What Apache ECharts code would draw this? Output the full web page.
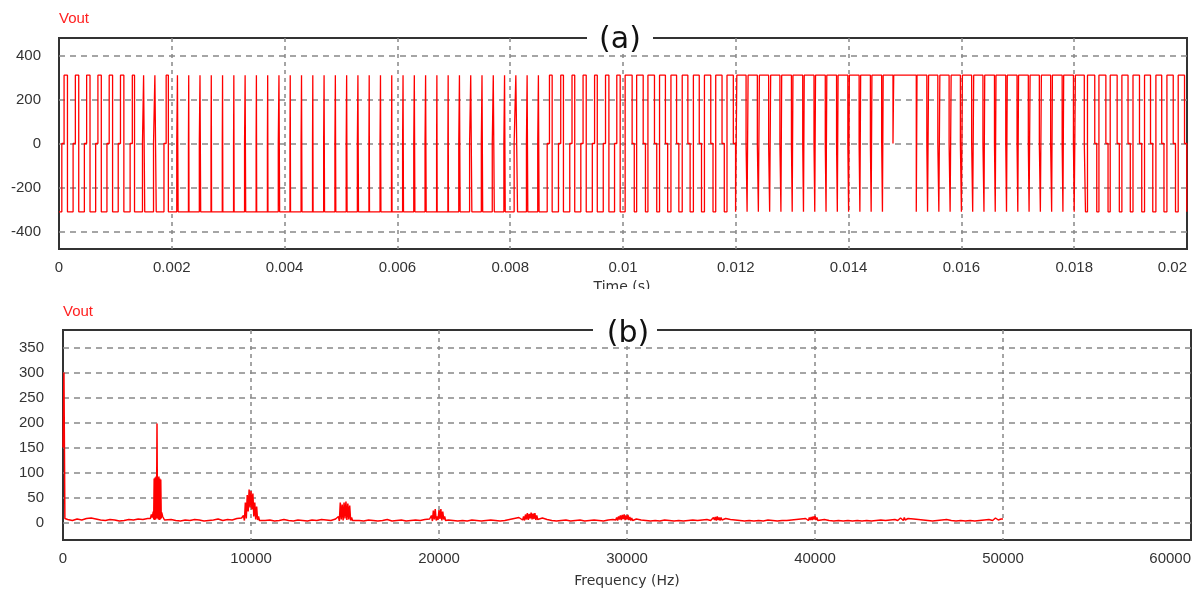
<!DOCTYPE html>
<html>
<head>
<meta charset="utf-8">
<title>Vout</title>
<style>
  html, body { margin: 0; background: #fff; }
  #main { width: 1201px; height: 590px; }
</style>
</head>
<body>
<div id="main"></div>
<script src="https://cdn.jsdelivr.net/npm/echarts@6/dist/echarts.min.js"></script>
<script>
// ---- (a) inverter output: high-pulse duty of each 0.2 ms carrier period
var duty = [
  0.5, 0.5, 0.5, 0.5, 0.5, 0.5, 0.39, 0.2, 0.24, 0.39,
  0.12, 0.05, 0.12, 0.05, 0.05, 0.05, 0.1, 0.05, 0.05, 0.12,
  0.05, 0.08, 0.05, 0.08, 0.08, 0.08, 0.1, 0.05, 0.08, 0.05,
  0.08, 0.1, 0.1, 0.05, 0.05, 0.12, 0.2, 0.12, 0.18, 0.12,
  0.3, 0.12, 0.12, 0.44, 0.44, 0.44, 0.48, 0.44, 0.5, 0.5,
  0.62, 0.58, 0.58, 0.52, 0.5, 0.5, 0.52, 0.56, 0.56, 0.56,
  0.82, 0.82, 0.82, 0.82, 0.865, 0.865, 0.865, 0.865, 0.865, 0.865,
  0.865, 0.865, 0.865, 0.87, 1, 1, 0.87, 0.82, 0.82, 0.82,
  0.82, 0.82, 0.865, 0.865, 0.865, 0.865, 0.82, 0.82, 0.865, 0.865,
  0.79, 0.645, 0.615, 0.615, 0.545, 0.575, 0.53, 0.515, 0.56, 0.56
];
var busVolt = 311;       // pulse height (V)
var carrierT = 0.0002;   // 5 kHz carrier
var halfCycle = 0.01;    // 50 Hz half period
var shelf = 0.2;         // zero-level step at the leading edge, part of a period
var voltTicks = [-400, -200, 0, 200, 400];

// ---- (b) spectrum: noise floor every 250 Hz (250 ... 50000) and the clusters around harmonics
var baseAmp = [
  6, 4, 7, 5, 8, 9, 7, 5, 4, 6, 5, 3, 4, 6, 5, 7, 6, 8, 10, 12,
  9, 5, 6, 4, 3, 5, 4, 6, 5, 3, 4, 5, 7, 4, 6, 5, 8, 9, 12, 15,
  10, 6, 4, 5, 3, 4, 6, 4, 3, 5, 4, 3, 5, 4, 6, 5, 4, 7, 10, 14,
  9, 6, 4, 3, 5, 4, 3, 4, 6, 3, 4, 5, 3, 4, 5, 4, 6, 7, 9, 12,
  8, 5, 4, 3, 4, 3, 5, 4, 3, 4, 5, 4, 3, 4, 6, 8, 10, 12, 14, 15,
  12, 9, 6, 4, 3, 4, 5, 3, 4, 5, 3, 4, 5, 4, 3, 5, 6, 8, 10, 12,
  10, 7, 5, 4, 3, 4, 3, 5, 4, 3, 4, 3, 4, 5, 4, 5, 6, 7, 8, 9,
  8, 6, 5, 4, 3, 4, 3, 4, 3, 5, 4, 3, 4, 4, 5, 6, 7, 8, 9, 10,
  8, 6, 4, 3, 4, 3, 4, 3, 4, 3, 4, 3, 4, 5, 4, 5, 6, 7, 8, 9,
  7, 6, 5, 4, 3, 4, 5, 6, 4, 3, 4, 3, 4, 3, 4, 5, 6, 8, 9, 7
];
var baseStep = 250;
var fund = [[0, 150], [50, 300], [100, 8], [150, 5], [200, 7]];
var c5k = [[4650, 8], [4700, 16], [4750, 10], [4800, 22], [4825, 6], [4850, 88], [4875, 5], [4900, 90],
  [4925, 6], [4950, 92], [4975, 8], [5000, 198], [5025, 8], [5050, 90], [5075, 6], [5100, 92], [5125, 5],
  [5150, 88], [5175, 6], [5200, 86], [5225, 8], [5250, 20], [5300, 12], [5350, 14], [5400, 5]];
var c10k = [[9550, 6], [9600, 14], [9650, 4], [9700, 40], [9750, 8], [9800, 55], [9850, 22], [9900, 66],
  [9950, 30], [10000, 63], [10050, 26], [10100, 58], [10150, 12], [10200, 40], [10250, 6], [10300, 32],
  [10350, 5], [10400, 12], [10450, 4]];
var c15k = [[14600, 5], [14650, 12], [14700, 3], [14750, 40], [14800, 6], [14850, 36], [14900, 4],
  [14950, 40], [15000, 8], [15050, 42], [15100, 5], [15150, 38], [15200, 6], [15250, 34], [15300, 4],
  [15350, 10], [15400, 4]];
var c20k = [[19550, 5], [19600, 14], [19650, 3], [19700, 24], [19750, 6], [19800, 27], [19850, 4],
  [19900, 12], [19950, 5], [20000, 25], [20050, 7], [20100, 27], [20150, 4], [20200, 22], [20250, 6],
  [20300, 12], [20350, 4]];
var c25k = [[24450, 5], [24500, 12], [24550, 4], [24600, 16], [24650, 6], [24700, 19], [24750, 5],
  [24800, 17], [24850, 8], [24900, 20], [24950, 6], [25000, 18], [25050, 7], [25100, 19], [25150, 5],
  [25200, 14], [25250, 6], [25300, 10], [25350, 4]];
var c30k = [[29400, 5], [29450, 10], [29500, 4], [29550, 12], [29600, 6], [29650, 14], [29700, 5],
  [29750, 15], [29800, 7], [29850, 16], [29900, 5], [29950, 14], [30000, 6], [30050, 15], [30100, 5],
  [30150, 11], [30200, 4], [30250, 9], [30300, 4]];
var c35k = [[34450, 4], [34500, 8], [34550, 4], [34600, 10], [34650, 5], [34700, 11], [34750, 4],
  [34800, 12], [34850, 5], [34900, 10], [34950, 4], [35000, 10], [35050, 5], [35100, 4]];
var c40k = [[39550, 4], [39600, 8], [39650, 4], [39700, 10], [39750, 5], [39800, 11], [39850, 5],
  [39900, 12], [39950, 6], [40000, 13], [40050, 5], [40100, 10], [40150, 4], [40200, 8], [40250, 4]];
var c45k = [[44400, 4], [44450, 7], [44500, 4], [44550, 9], [44600, 5], [44650, 10], [44700, 4],
  [44750, 10], [44800, 5], [44850, 9], [44900, 4], [44950, 8], [45000, 4], [45050, 5]];
var c50k = [[49450, 4], [49500, 7], [49550, 4], [49600, 9], [49650, 5], [49700, 11], [49750, 5],
  [49800, 8], [49850, 4], [49900, 7], [49950, 5], [50000, 7]];
var ampTicks = [0, 50, 100, 150, 200, 250, 300, 350];

// step waveform from the duty list
function buildWave() {
  var segs = [];
  for (var k = 0; k < duty.length; k++) {
    var t0 = k * carrierT, t1 = t0 + carrierT;
    var w = duty[k] * carrierT, c = t0 + carrierT / 2;
    var r = c - w / 2, f = c + w / 2;
    if (t0 < halfCycle - 1e-9) {
      var s = Math.min(shelf * carrierT, w / 2);
      segs.push([t0, r, -busVolt], [r, r + s, 0], [r + s, f, busVolt], [f, t1, -busVolt]);
    } else {
      var s2 = Math.min(shelf * carrierT, (carrierT - w) / 2);
      segs.push([t0, r, -busVolt], [r, f, busVolt], [f, f + s2, 0], [f + s2, t1, -busVolt]);
    }
  }
  var pts = [];
  segs.forEach(function (g) {
    if (g[1] - g[0] <= 1e-12) return;
    pts.push([g[0], g[2]], [g[1], g[2]]);
  });
  return pts;
}

function buildSpectrum() {
  var clusters = [fund, c5k, c10k, c15k, c20k, c25k, c30k, c35k, c40k, c45k, c50k];
  var pts = [];
  clusters.forEach(function (c) { c.forEach(function (p) { pts.push(p); }); });
  baseAmp.forEach(function (a, i) {
    var f = baseStep * (i + 1);
    var inside = clusters.some(function (c) { return f >= c[0][0] && f <= c[c.length - 1][0]; });
    if (!inside) pts.push([f, a]);
  });
  pts.sort(function (a, b) { return a[0] - b[0]; });
  return pts;
}

var labelFont = 'Liberation Sans';
var gridDash = { color: '#888', type: [4, 4], width: 1.5 };

var myChart = echarts.init(document.getElementById('main'));
var option = {
  animation: false,
  backgroundColor: '#fff',
  grid: [
    { left: 59, top: 38, width: 1128, height: 211, show: true, borderColor: '#333', borderWidth: 2 },
    { left: 63, top: 330, width: 1128, height: 210, show: true, borderColor: '#333', borderWidth: 2 }
  ],
  xAxis: [
    {
      gridIndex: 0, type: 'value', min: 0, max: 0.02, interval: 0.002,
      axisLine: { show: false }, axisTick: { show: false },
      axisLabel: { color: '#333', fontSize: 15, fontFamily: labelFont, margin: 11, alignMaxLabel: 'right' },
      splitLine: { show: true, showMinLine: false, showMaxLine: false, lineStyle: gridDash }
    },
    {
      gridIndex: 1, type: 'value', min: 0, max: 60000, interval: 10000,
      axisLine: { show: false }, axisTick: { show: false },
      axisLabel: {
        color: '#333', fontSize: 15, fontFamily: labelFont, margin: 11, alignMaxLabel: 'right',
        formatter: function (v) { return String(v); }
      },
      splitLine: { show: true, showMinLine: false, showMaxLine: false, lineStyle: gridDash }
    }
  ],
  yAxis: [
    {
      gridIndex: 0, type: 'value', min: -480, max: 480,
      axisLine: { show: false }, axisTick: { show: false, customValues: voltTicks },
      axisLabel: { color: '#333', fontSize: 15, fontFamily: labelFont, margin: 18, customValues: voltTicks },
      splitLine: { show: true, lineStyle: { color: '#888', type: [6, 5], width: 1.5 } }
    },
    {
      gridIndex: 1, type: 'value', min: -35, max: 385,
      axisLine: { show: false }, axisTick: { show: false, customValues: ampTicks },
      axisLabel: { color: '#333', fontSize: 15, fontFamily: labelFont, margin: 19, customValues: ampTicks },
      splitLine: { show: true, lineStyle: { color: '#888', type: [6, 5], width: 1.5 } }
    }
  ],
  graphic: [
    { type: 'text', left: 59, top: 11, z: 50, style: { text: 'Vout', fill: '#ff2020', font: '15px "Liberation Sans"' } },
    { type: 'text', left: 63, top: 304, z: 50, style: { text: 'Vout', fill: '#ff2020', font: '15px "Liberation Sans"' } },
    { type: 'rect', shape: { x: 587, y: 28, width: 66, height: 22 }, z: 60, style: { fill: '#fff' } },
    { type: 'text', z: 61, style: { text: '(a)', x: 620, y: 40, align: 'center', verticalAlign: 'middle', fill: '#111', font: '30px "DejaVu Sans"' } },
    { type: 'rect', shape: { x: 593, y: 320, width: 64, height: 22 }, z: 60, style: { fill: '#fff' } },
    { type: 'text', z: 61, style: { text: '(b)', x: 628, y: 334, align: 'center', verticalAlign: 'middle', fill: '#111', font: '30px "DejaVu Sans"' } },
    { type: 'text', z: 50, style: { text: 'Time (s)', x: 622, y: 280, align: 'center', verticalAlign: 'top', fill: '#333', font: '14px "DejaVu Sans"' } },
    { type: 'rect', shape: { x: 560, y: 289, width: 130, height: 14 }, z: 55, style: { fill: '#fff' } },
    { type: 'text', z: 50, style: { text: 'Frequency (Hz)', x: 627, y: 581, align: 'center', verticalAlign: 'middle', fill: '#333', font: '14px "DejaVu Sans"' } }
  ],
  series: [
    {
      name: 'Vout (a)', type: 'line', xAxisIndex: 0, yAxisIndex: 0,
      data: buildWave(), showSymbol: false, symbol: 'none', sampling: null,
      lineStyle: { color: '#ff0000', width: 1.3 }, clip: true
    },
    {
      name: 'Vout (b)', type: 'line', xAxisIndex: 1, yAxisIndex: 1,
      data: buildSpectrum(), showSymbol: false, symbol: 'none',
      lineStyle: { color: '#ff0000', width: 1.5 }, clip: true
    }
  ]
};
myChart.setOption(option);
</script>
</body>
</html>
